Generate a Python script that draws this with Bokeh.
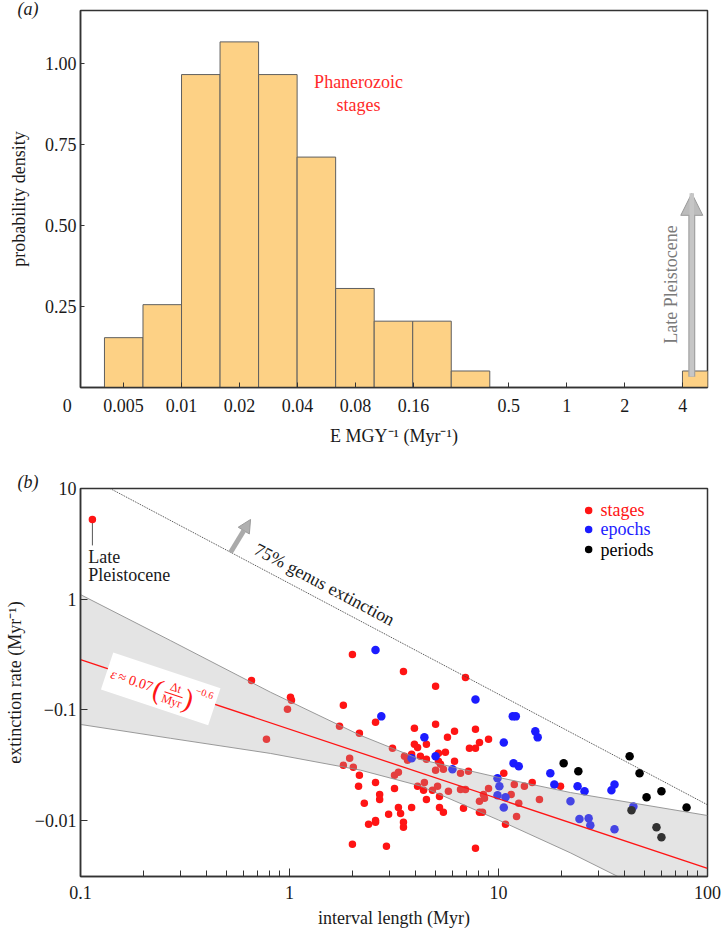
import math
from bokeh.plotting import figure
from bokeh.models import Range1d, FixedTicker, Label, Arrow, NormalHead, CustomJSTickFormatter, Title
from bokeh.layouts import column
from bokeh.embed import file_html
from bokeh.resources import INLINE

FONT = "Liberation Serif"

# ---------------- panel (a): histogram of E MGY^-1 ----------------
bin_lo_exp = [-2.4, -2.2, -2.0, -1.8, -1.6, -1.4, -1.2, -1.0, -0.8, -0.6, 0.6]
bin_hi_exp = [-2.2, -2.0, -1.8, -1.6, -1.4, -1.2, -1.0, -0.8, -0.6, -0.4, 0.8]
density = [0.154, 0.256, 0.967, 1.068, 0.967, 0.712, 0.306, 0.205, 0.205, 0.051, 0.051]
a_xticks = [0.003, 0.005, 0.01, 0.02, 0.04, 0.08, 0.16, 0.5, 1, 2, 4]
a_xtick_labels = ["0\u2003\u2002", "0.005", "0.01", "0.02", "0.04", "0.08", "0.16", "0.5", "1", "2", "4"]
a_yticks = [0.25, 0.5, 0.75, 1.0]
a_ytick_labels = ["0.25", "0.50", "0.75", "1.00"]

# ---------------- panel (b): extinction rate vs interval length ----------------
stage_x = [0.658, 1.011, 1.022, 0.978, 1.81, 0.776, 1.735, 2.16, 2.0, 1.94, 1.81, 2.02, 2.16, 2.14, 2.0,
           2.58, 3.96, 3.96, 4.10, 3.11, 3.55, 3.67, 3.84, 3.32, 3.18, 2.58, 3.18, 4.10, 2.70, 2.70,
           2.28, 3.32, 3.84, 3.40, 2.98, 2.58, 2.39, 3.51, 3.51, 2.91, 3.51, 6.95, 5.00, 5.00, 6.16,
           7.76, 5.70, 4.52, 8.11, 8.96, 7.26, 7.76, 5.57, 5.16, 4.23, 4.52, 5.16, 5.28, 6.16, 5.00,
           5.45, 6.58, 7.18, 10.6, 11.9, 13.3, 14.5, 19.8, 4.42, 4.38, 5.11, 4.83, 5.76, 6.58, 6.95,
           8.96, 8.47, 8.57, 8.11, 11.5, 4.52, 5.22, 15.7, 12.5, 5.22, 5.45, 6.80, 8.11, 8.38, 12.2,
           10.8, 7.76, 2.58]
stage_y = [0.184, 0.130, 0.122, 0.101, 0.110, 0.0541, 0.0710, 0.0613, 0.316, 0.0365,
           0.0315, 0.0303, 0.0256, 0.0204, 0.00611, 0.0771, 0.0681, 0.0488, 0.0458, 0.0449,
           0.0380, 0.0350, 0.0397, 0.0273, 0.0256, 0.0221, 0.0195, 0.0204, 0.0172, 0.0155,
           0.0143, 0.0131, 0.0131, 0.0116, 0.0114, 0.0100, 0.00925, 0.00964, 0.00869, 0.00586,
           0.222, 0.196, 0.163, 0.0740, 0.0639, 0.0667, 0.0564, 0.0488, 0.0508, 0.0541,
           0.0449, 0.0449, 0.0413, 0.0405, 0.0380, 0.0357, 0.0343, 0.0322, 0.0343, 0.0284,
           0.0290, 0.0267, 0.0279, 0.0267, 0.0212, 0.0204, 0.0221, 0.0204, 0.0221, 0.0188,
           0.0204, 0.0188, 0.0184, 0.0191, 0.0191, 0.0195, 0.0172, 0.0159, 0.0149, 0.0172,
           0.0155, 0.0165, 0.0155, 0.0143, 0.0131, 0.0119, 0.0129, 0.0119, 0.0119, 0.0109,
           0.00925, 0.00562, 0.00964]
epoch_x = [2.58, 2.75, 3.84, 4.42, 5.00, 6.02, 7.76, 9.89, 10.1, 9.89, 10.8, 10.6, 10.6, 11.7, 12.1,
           11.8, 12.5, 15.0, 15.4, 17.7, 18.5, 22.1, 23.9, 25.8, 24.4, 27.0, 27.5, 34.7, 35.9, 35.9, 44.2]
epoch_y = [0.348, 0.0873, 0.0365, 0.0564, 0.0380, 0.0290, 0.124, 0.0241, 0.0204, 0.0169, 0.0162,
           0.0131, 0.0508, 0.0873, 0.0873, 0.0329, 0.0309, 0.0639, 0.0564, 0.0267, 0.0212, 0.0149,
           0.0204, 0.0184, 0.0103, 0.0105, 0.00906, 0.0188, 0.0212, 0.00834, 0.0134]
period_x = [20.5, 24.1, 42.4, 47.3, 51.1, 60.2, 79.4, 43.3, 57.0, 60.2]
period_y = [0.0329, 0.0279, 0.0380, 0.0267, 0.0162, 0.0184, 0.0131, 0.0124, 0.00869, 0.00706]
late_pleist_x = [0.114]
late_pleist_y = [5.25]

fit_x = [0.1, 100.0]
fit_y = [0.285, 0.00369]
band_x = [0.1, 0.27, 0.81, 2.19, 4.23, 10.0, 22.1, 100.0]
band_hi = [1.10, 0.422, 0.1445, 0.0587, 0.0356, 0.0245, 0.0179, 0.0111]
band_lo = [0.0738, 0.0553, 0.0404, 0.0285, 0.0205, 0.0101, 0.0051, 0.00123]
genus75_x = [0.1386, 100.0]
genus75_y = [10.0, 0.01386]

b_xticks = [0.1, 1, 10, 100]
b_xtick_labels = ["0.1", "1", "10", "100"]
b_yticks = [0.01, 0.1, 1, 10]
b_ytick_labels = ["\u22120.01", "\u22120.1", "1", "10"]

RED = "#ff1414"
BLUE = "#1c1cff"
BLACK = "#000000"
INK = "#1a1a1a"


def fmt(vals, labs):
    return CustomJSTickFormatter(args=dict(vals=vals, labs=labs), code="""
        for (let i = 0; i < vals.length; i++) {
            if (Math.abs(vals[i] - tick) <= 1e-6 * Math.abs(vals[i])) return labs[i];
        }
        return "";
    """)


def style_axis(ax, tick_in, minor_in=0, standoff=4):
    ax.axis_line_color = "#333333"
    ax.axis_line_width = 1.5
    ax.major_tick_line_color = "#333333"
    ax.major_tick_in = tick_in
    ax.major_tick_out = 0
    ax.minor_tick_in = minor_in
    ax.minor_tick_out = 0
    ax.minor_tick_line_color = "#333333" if minor_in else None
    ax.major_label_text_font = FONT
    ax.major_label_text_font_size = "18px"
    ax.major_label_text_color = INK
    ax.major_label_standoff = standoff
    ax.axis_label_text_font = FONT
    ax.axis_label_text_font_size = "18px"
    ax.axis_label_text_font_style = "normal"
    ax.axis_label_text_color = INK


def lab(p, x, y, text, dx=0, dy=0, size="18px", color=INK, align="left", style="normal", angle=0.0):
    p.add_layout(Label(x=x, y=y, x_offset=dx, y_offset=dy, text=text, text_font=FONT,
                       text_font_size=size, text_color=color, text_align=align,
                       text_baseline="middle", text_font_style=style, angle=angle))


def panel_letter(p, text, standoff):
    p.add_layout(Title(text=text, align="left", offset=-63, standoff=standoff, text_font=FONT,
                       text_font_size="18px", text_font_style="italic", text_color=INK), "above")


# ================= panel (a) =================
AX0, AX1 = 0.00299, 5.37
AY1 = 1.165
p1 = figure(width=721, height=448, x_axis_type="log", x_range=Range1d(AX0, AX1),
            y_range=Range1d(0, AY1), output_backend="svg", toolbar_location=None,
            min_border_left=80, min_border_right=14, min_border_top=10, min_border_bottom=50)
p1.grid.visible = False
p1.outline_line_color = "#333333"
p1.outline_line_width = 1.5
p1.background_fill_color = "white"
p1.border_fill_color = "white"

p1.quad(left=[10 ** e for e in bin_lo_exp], right=[10 ** e for e in bin_hi_exp],
        bottom=0, top=density, fill_color="#fdd185", line_color="#5f5f5f", line_width=1)

p1.xaxis.ticker = FixedTicker(ticks=a_xticks)
p1.xaxis.formatter = fmt(a_xticks, a_xtick_labels)
p1.yaxis.ticker = FixedTicker(ticks=a_yticks)
p1.yaxis.formatter = fmt(a_yticks, a_ytick_labels)
style_axis(p1.xaxis[0], 5, standoff=8)
style_axis(p1.yaxis[0], 4, standoff=4)
p1.xaxis.axis_label = "E MGY\u207b\u00b9 (Myr\u207b\u00b9)"
p1.xaxis.axis_label_standoff = 7
p1.yaxis.axis_label = "probability density"
p1.yaxis.axis_label_standoff = 13

panel_letter(p1, "(a)", -16)

lab(p1, 0.083, 0.943, "Phanerozoic", color="#ff2a2a", align="center")
lab(p1, 0.083, 0.874, "stages", color="#ff2a2a", align="center")
lab(p1, 3.49, 0.318, "Late Pleistocene", color="#7a7a7a", align="center", angle=math.pi / 2)

p1.add_layout(Arrow(end=NormalHead(size=22, fill_color="#bcbcbc", line_color="#9a9a9a", line_width=1),
                    x_start=4.45, y_start=0.033, x_end=4.45, y_end=0.60,
                    line_width=7, line_color="#a3a3a3"))
p1.add_layout(Arrow(end=None, x_start=4.45, y_start=0.034, x_end=4.45, y_end=0.60,
                    line_width=4.5, line_color="#c6c6c6"))

# ================= panel (b) =================
BX0, BX1 = 0.1, 100.0
BY0, BY1 = 0.00312, 10.001
p2 = figure(width=721, height=482, x_axis_type="log", y_axis_type="log",
            x_range=Range1d(BX0, BX1), y_range=Range1d(BY0, BY1),
            output_backend="svg", toolbar_location=None,
            min_border_left=80, min_border_right=14, min_border_top=40, min_border_bottom=54)
p2.grid.visible = False
p2.outline_line_color = "#333333"
p2.outline_line_width = 1.5
p2.background_fill_color = "white"
p2.border_fill_color = "white"

minor = [m * 10.0 ** e for e in (-1, 0, 1) for m in range(2, 10)]
p2.xaxis.ticker = FixedTicker(ticks=b_xticks, minor_ticks=minor)
p2.xaxis.formatter = fmt(b_xticks, b_xtick_labels)
p2.yaxis.ticker = FixedTicker(ticks=b_yticks)
p2.yaxis.formatter = fmt(b_yticks, b_ytick_labels)
style_axis(p2.xaxis[0], 8, minor_in=6, standoff=9)
style_axis(p2.yaxis[0], 7, standoff=4)
p2.xaxis.axis_label = "interval length (Myr)"
p2.xaxis.axis_label_standoff = 6
p2.yaxis.axis_label = "extinction rate (Myr\u207b\u00b9)"
p2.yaxis.axis_label_standoff = 7

panel_letter(p2, "(b)", -6)

# data points (drawn under the confidence band)
p2.scatter(stage_x, stage_y, size=7.5, fill_color=RED, line_color=None)
p2.scatter(epoch_x, epoch_y, size=8.5, fill_color=BLUE, line_color=None)
p2.scatter(period_x, period_y, size=8.5, fill_color=BLACK, line_color=None)

# confidence band over the points
p2.varea(x=band_x, y1=band_lo, y2=band_hi, fill_color="#a6a6a6", fill_alpha=0.3)
p2.line(band_x, band_hi, line_color="#8e8e8e", line_width=0.9)
p2.line(band_x, band_lo, line_color="#8e8e8e", line_width=0.9)
p2.line(fit_x, fit_y, line_color=RED, line_width=1.3)
p2.line(genus75_x, genus75_y, line_color="#444444", line_width=1, line_dash="1 1")

# Late Pleistocene
p2.segment(x0=late_pleist_x, y0=late_pleist_y, x1=late_pleist_x, y1=[3.06], line_color="#555555", line_width=1)
p2.scatter(late_pleist_x, late_pleist_y, size=7.5, fill_color=RED, line_color=None)
lab(p2, 0.109, 2.38, "Late")
lab(p2, 0.109, 1.64, "Pleistocene")

# 75% genus extinction
lab(p2, 1.47, 1.36, "75% genus extinction", align="center", angle=-math.atan(0.5297))
p2.add_layout(Arrow(end=NormalHead(size=13, fill_color="#b0b0b0", line_color="#9a9a9a", line_width=1),
                    x_start=0.522, y_start=2.64, x_end=0.651, y_end=5.25,
                    line_width=5, line_color="#aaaaaa"))

# legend
for yy, name, col in [(6.33, "stages", RED), (4.27, "epochs", BLUE), (2.81, "periods", BLACK)]:
    p2.scatter([27.0], [yy], size=7.5, fill_color=col, line_color=None)
    lab(p2, 30.8, yy, name, color=col)

# equation box, rotated along the fit line
EQX, EQY = 0.242, 0.1545
TH = math.atan(0.333)
PXD_X = 627.0 / math.log10(BX1 / BX0)
PXD_Y = 388.0 / math.log10(BY1 / BY0)
p2.rect(x=[EQX], y=[EQY], width=113, height=39, width_units="screen", height_units="screen",
        angle=-TH, fill_color="white", line_color=None)


def rot(lx, ly):
    dx = lx * math.cos(TH) - ly * math.sin(TH)
    dyd = lx * math.sin(TH) + ly * math.cos(TH)
    return dx, -dyd


def eq(text, lx, ly, size, align="left", style="normal"):
    dx, dy = rot(lx, ly)
    lab(p2, EQX, EQY, text, dx=dx, dy=dy, size=size, color=RED, align=align, style=style, angle=-TH)


eq("\u03b5", -52, 1, "14px", style="italic")
eq("\u2248 0.07", -44, 1, "14px")
eq("(", -7, 1, "28px")
eq("\u0394t", 14, -6, "12px", align="center")
eq("Myr", 14, 8, "12px", align="center")
eq(")", 25, 1, "28px")
eq("\u22120.6", 34, -10, "10px")
bdx, bdy = rot(14, 1.5)
p2.rect(x=[EQX * 10 ** (bdx / PXD_X)], y=[EQY * 10 ** (bdy / PXD_Y)], width=19, height=0.9,
        width_units="screen", height_units="screen", angle=-TH, fill_color=RED, line_color=None)

layout = column(p1, p2)
open("out.html", "w").write(file_html(layout, INLINE))
